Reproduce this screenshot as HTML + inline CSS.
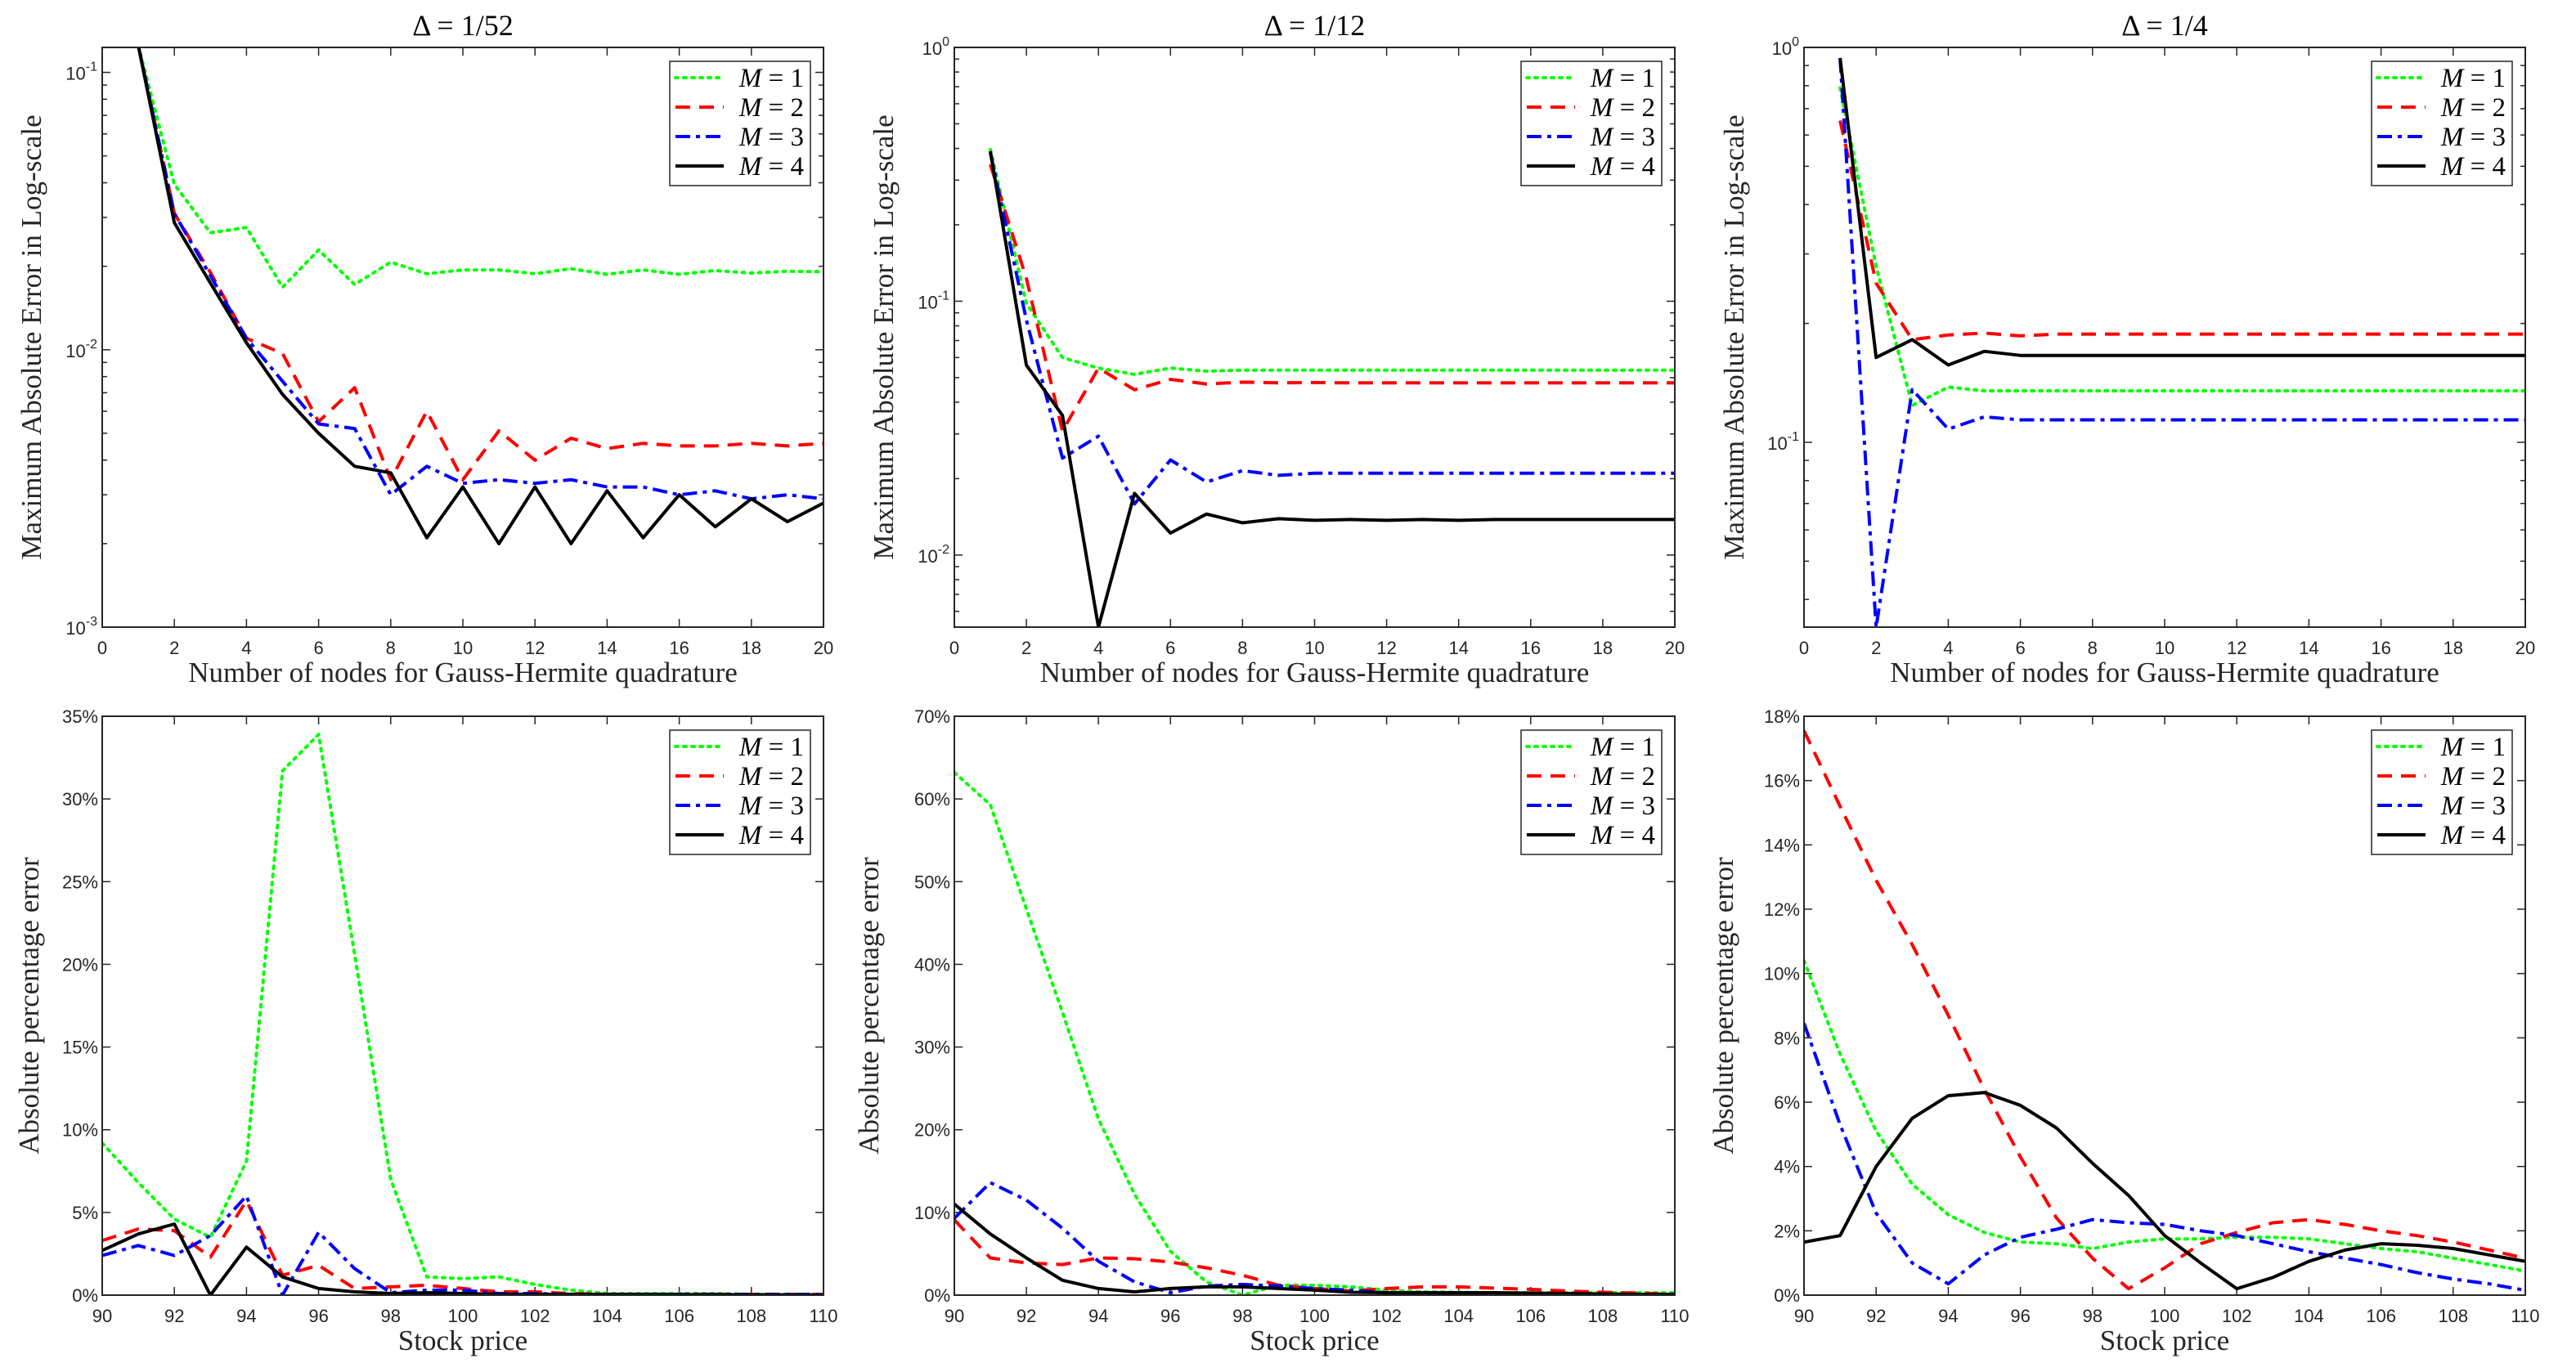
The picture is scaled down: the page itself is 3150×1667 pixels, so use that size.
<!DOCTYPE html>
<html><head><meta charset="utf-8"><style>
html,body{margin:0;padding:0;background:#fff;}
svg{display:block;}
.tk{font-family:"Liberation Sans",sans-serif;font-size:22px;fill:#262626;}
.lab{font-family:"Liberation Serif",serif;font-size:35px;fill:#262626;}
.ttl{font-family:"Liberation Serif",serif;font-size:36px;fill:#000;}
.leg{font-family:"Liberation Serif",serif;font-size:33px;fill:#000;}
</style></head><body>
<svg id="fig" width="3150" height="1667" viewBox="0 0 3150 1667" xmlns="http://www.w3.org/2000/svg"></svg>
<script>
// ---- data ----
const nodes = [1,2,3,4,5,6,7,8,9,10,11,12,13,14,15,16,17,18,19,20];
const prices = [90,91,92,93,94,95,96,97,98,99,100,101,102,103,104,105,106,107,108,109,110];
const titles = ["Δ = 1/52","Δ = 1/12","Δ = 1/4"];

const t52M1 = [0.125,0.0395,0.0264,0.0276,0.0168,0.0229,0.0172,0.0207,0.0188,0.0194,0.0194,0.0188,0.0196,0.0187,0.0194,0.0187,0.0193,0.0189,0.0192,0.0191];
const t52M2 = [0.125,0.031,0.019,0.011,0.0097,0.0055,0.0073,0.0034,0.0060,0.0034,0.0051,0.0040,0.0048,0.0044,0.0046,0.0045,0.0045,0.0046,0.0045,0.0046];
const t52M3 = [0.125,0.031,0.0185,0.011,0.0077,0.0054,0.0052,0.0030,0.0038,0.0033,0.0034,0.0033,0.0034,0.0032,0.0032,0.0030,0.0031,0.0029,0.0030,0.0029];
const t52M4 = [0.125,0.0287,0.0174,0.0106,0.0069,0.0050,0.0038,0.0036,0.0021,0.0032,0.0020,0.0032,0.0020,0.0031,0.0021,0.0030,0.0023,0.0029,0.0024,0.0028];

const t12M1 = [0.396,0.098,0.060,0.0545,0.0515,0.0545,0.053,0.0535,0.0535,0.0535,0.0535,0.0535,0.0535,0.0535,0.0535,0.0535,0.0535,0.0535,0.0535,0.0535];
const t12M2 = [0.346,0.123,0.0308,0.0545,0.0448,0.0492,0.0472,0.048,0.0477,0.0478,0.0477,0.0477,0.0477,0.0477,0.0477,0.0477,0.0477,0.0477,0.0477,0.0477];
const t12M3 = [0.385,0.0844,0.0241,0.0294,0.0159,0.0237,0.0194,0.0215,0.0206,0.021,0.021,0.021,0.021,0.021,0.021,0.021,0.021,0.021,0.021,0.021];
const t12M4 = [0.39,0.056,0.0355,0.0052,0.0175,0.0122,0.0145,0.0134,0.0139,0.0137,0.0138,0.0137,0.0138,0.0137,0.0138,0.0138,0.0138,0.0138,0.0138,0.0138];

const t4M1 = [0.79,0.279,0.124,0.138,0.135,0.135,0.135,0.135,0.135,0.135,0.135,0.135,0.135,0.135,0.135,0.135,0.135,0.135,0.135,0.135];
const t4M2 = [0.653,0.253,0.182,0.187,0.189,0.186,0.188,0.188,0.188,0.188,0.188,0.188,0.188,0.188,0.188,0.188,0.188,0.188,0.188,0.188];
const t4M3 = [0.94,0.034,0.136,0.108,0.116,0.114,0.114,0.114,0.114,0.114,0.114,0.114,0.114,0.114,0.114,0.114,0.114,0.114,0.114,0.114];
const t4M4 = [0.94,0.164,0.182,0.157,0.170,0.166,0.166,0.166,0.166,0.166,0.166,0.166,0.166,0.166,0.166,0.166,0.166,0.166,0.166,0.166];

const b52M1 = [9.2,6.8,4.6,3.5,8.1,31.7,33.9,20.6,7.0,1.1,1.0,1.1,0.65,0.3,0.1,0.1,0.1,0.1,0.05,0.05,0.0];
const b52M2 = [3.3,4.0,3.9,2.3,5.7,1.2,1.8,0.4,0.5,0.6,0.4,0.2,0.2,0.1,0.05,0.05,0.05,0.05,0.05,0.05,0.05];
const b52M3 = [2.4,3.0,2.4,3.6,6.0,0.0,3.8,1.6,0.15,0.3,0.3,0.1,0.1,0.05,0.05,0.05,0.05,0.05,0.05,0.05,0.05];
const b52M4 = [2.7,3.7,4.3,0.0,2.9,1.1,0.4,0.2,0.1,0.15,0.1,0.05,0.05,0.05,0.05,0.05,0.03,0.03,0.02,0.02,0.0];

const b12M1 = [63.2,59.3,46.7,34.2,21.3,12.2,5.3,1.6,0.0,1.2,1.2,1.0,0.6,0.4,0.35,0.3,0.3,0.3,0.3,0.3,0.3];
const b12M2 = [9.1,4.5,3.9,3.7,4.5,4.4,4.0,3.3,2.4,1.2,0.8,0.5,0.8,1.0,1.0,0.85,0.7,0.5,0.35,0.25,0.1];
const b12M3 = [9.3,13.6,11.5,8.1,4.1,1.6,0.3,1.1,1.3,1.1,0.8,0.6,0.3,0.15,0.1,0.1,0.1,0.1,0.1,0.1,0.1];
const b12M4 = [11.0,7.4,4.5,1.8,0.8,0.4,0.8,1.0,1.0,0.8,0.6,0.35,0.3,0.3,0.3,0.3,0.25,0.2,0.15,0.1,0.1];

const b4M1 = [10.4,7.5,5.1,3.45,2.5,1.95,1.65,1.6,1.45,1.65,1.75,1.75,1.8,1.8,1.75,1.6,1.45,1.35,1.15,0.95,0.75];
const b4M2 = [17.55,15.2,12.9,10.9,8.7,6.4,4.3,2.4,1.15,0.2,0.85,1.6,1.95,2.25,2.35,2.2,2.0,1.85,1.65,1.4,1.15];
const b4M3 = [8.45,5.3,2.55,1.0,0.35,1.25,1.8,2.05,2.35,2.25,2.2,2.0,1.85,1.6,1.35,1.15,0.95,0.7,0.5,0.35,0.15];
const b4M4 = [1.65,1.85,4.0,5.5,6.2,6.3,5.9,5.2,4.1,3.1,1.85,1.0,0.2,0.55,1.05,1.4,1.6,1.55,1.45,1.25,1.05];

const nodeTicks = [0,2,4,6,8,10,12,14,16,18,20];
const priceTicks = [90,92,94,96,98,100,102,104,106,108,110];
const pct52Ticks = [0,5,10,15,20,25,30,35];
const pct12Ticks = [0,10,20,30,40,50,60,70];
const pct4Ticks = [0,2,4,6,8,10,12,14,16,18];
const legendLabels = ["1","2","3","4"];

// ---- drawing ----
const NS = "http://www.w3.org/2000/svg";
const svg = document.getElementById('fig');
function mk(tag, attrs, parent){const e=document.createElementNS(NS,tag);for(const k in attrs)e.setAttribute(k,attrs[k]);(parent||svg).appendChild(e);return e;}

const styles = [
  {stroke:"#00ff00", dash:"3 7", w:4, cap:"round"},
  {stroke:"#ff0000", dash:"18 11", w:4, cap:"butt"},
  {stroke:"#0000ff", dash:"18 7 5 7", w:4, cap:"butt"},
  {stroke:"#000000", dash:"", w:4, cap:"butt"}
];
const colsX = [[125,1007],[1167,2048],[2206,3088]];
const rowsY = [[58,767],[876,1584]];
const ylabX = [[50,1092,2132],[47,1074,2119]];
let clipId = 0;

function panel(ci, ri, xdom, xticks, yscale, ydom, yticks, series, ylabel, xlabel, nameBase){
  const [x0,x1] = colsX[ci], [y0,y1] = rowsY[ri];
  const g = mk('g',{});
  
  
  const sx = v => x0 + (v - xdom[0])/(xdom[1]-xdom[0])*(x1-x0);
  const sy = yscale==='log'
    ? v => y1 - (Math.log10(v)-Math.log10(ydom[0]))/(Math.log10(ydom[1])-Math.log10(ydom[0]))*(y1-y0)
    : v => y1 - (v-ydom[0])/(ydom[1]-ydom[0])*(y1-y0);
  const TL = 10;
  xticks.forEach(t=>{
    const x=sx(t);
    mk('line',{x1:x,y1:y1,x2:x,y2:y1-TL,stroke:"#262626","stroke-width":1.5},g);
    mk('line',{x1:x,y1:y0,x2:x,y2:y0+TL,stroke:"#262626","stroke-width":1.5},g);
    const tx = mk('text',{x:x,y:y1+33,"text-anchor":"middle",class:"tk"},g);
    tx.textContent = t;
    
    
  });
  if(yscale==='log'){
    const lo=Math.floor(Math.log10(ydom[0])), hi=Math.ceil(Math.log10(ydom[1]));
    for(let e=lo;e<=hi;e++){
      for(let m=1;m<10;m++){
        const v=m*Math.pow(10,e);
        if(v<ydom[0]*0.999||v>ydom[1]*1.001) continue;
        const y=sy(v), L = m===1?TL:TL*0.6;
        mk('line',{x1:x0,y1:y,x2:x0+L,y2:y,stroke:"#262626","stroke-width":1.5},g);
        mk('line',{x1:x1,y1:y,x2:x1-L,y2:y,stroke:"#262626","stroke-width":1.5},g);
      }
    }
    yticks.forEach(e=>{
      const y=sy(Math.pow(10,e));
      const tx=mk('text',{x:x0-6,y:y+9,"text-anchor":"end",class:"tk"},g);
      
      
      const a=mk('tspan',{},tx); a.textContent="10";
      const b=mk('tspan',{dy:-11,"font-size":"16px"},tx); b.textContent=String(e);
    });
  } else {
    yticks.forEach(t=>{
      const y=sy(t);
      mk('line',{x1:x0,y1:y,x2:x0+TL,y2:y,stroke:"#262626","stroke-width":1.5},g);
      mk('line',{x1:x1,y1:y,x2:x1-TL,y2:y,stroke:"#262626","stroke-width":1.5},g);
      const tx=mk('text',{x:x0-5,y:y+8,"text-anchor":"end",class:"tk"},g);
      tx.textContent=t+"%";
      
      
    });
  }
  const id='c'+(clipId++);
  const cp=mk('clipPath',{id:id},g);
  mk('rect',{x:x0,y:y0,width:x1-x0,height:y1-y0},cp);
  series.forEach((s,si)=>{
    const st=styles[si];
    const pts=s.x.map((xv,i)=>sx(xv).toFixed(1)+","+sy(s.y[i]).toFixed(1)).join(" ");
    const pl=mk('polyline',{points:pts,fill:"none",stroke:st.stroke,"stroke-width":st.w,"stroke-dasharray":st.dash,"stroke-linecap":st.cap,"stroke-linejoin":"round","clip-path":"url(#"+id+")"},g);
    
    
  });
  const box=mk('rect',{x:x0,y:y0,width:x1-x0,height:y1-y0,fill:"none",stroke:"#262626","stroke-width":2},g);
  
  
  const xl=mk('text',{x:(x0+x1)/2,y:y1+67,"text-anchor":"middle",class:"lab"},g);
  xl.textContent=xlabel;
  
  
  const lx=ylabX[ri][ci], ly=(y0+y1)/2;
  const yl=mk('text',{x:lx,y:ly,"text-anchor":"middle",class:"lab",transform:"rotate(-90 "+lx+" "+ly+")"},g);
  yl.textContent=ylabel;
  
  
  const lr=x1-16, lw=172, lt = y0+17, lh=152;
  const lg=mk('g',{},g);
  
  
  mk('rect',{x:lr-lw,y:lt,width:lw,height:lh,fill:"#fff",stroke:"#262626","stroke-width":1.5},lg);
  legendLabels.forEach((lab,i)=>{
    const st=styles[i], yy=lt+20+i*36;
    const ln=mk('line',{x1:lr-lw+7,y1:yy,x2:lr-lw+66,y2:yy,stroke:st.stroke,"stroke-width":st.w,"stroke-dasharray":st.dash,"stroke-linecap":st.cap},lg);
    
    
    const t=mk('text',{x:lr-8,y:yy+11,"text-anchor":"end",class:"leg"},lg);
    const a=mk('tspan',{"font-style":"italic"},t); a.textContent="M";
    const b=mk('tspan',{},t); b.textContent=" = "+lab;
  });
  if(ri===0){
    const tt=mk('text',{x:(x0+x1)/2,y:43,"text-anchor":"middle",class:"ttl"},g);
    tt.textContent=titles[ci];
    
    
  }
}

const ylTop="Maximum Absolute Error in Log-scale", xlTop="Number of nodes for Gauss-Hermite quadrature";
const ylBot="Absolute percentage error", xlBot="Stock price";
const S=(x,arrs)=>arrs.map(a=>({x:x,y:a}));

panel(0,0,[0,20],nodeTicks,'log',[0.001,Math.pow(10,-0.91)],[-3,-2,-1],S(nodes,[t52M1,t52M2,t52M3,t52M4]),ylTop,xlTop,'error-chart-1-52');
panel(1,0,[0,20],nodeTicks,'log',[Math.pow(10,-2.284),1],[-2,-1,0],S(nodes,[t12M1,t12M2,t12M3,t12M4]),ylTop,xlTop,'error-chart-1-12');
panel(2,0,[0,20],nodeTicks,'log',[Math.pow(10,-1.468),1],[-1,0],S(nodes,[t4M1,t4M2,t4M3,t4M4]),ylTop,xlTop,'error-chart-1-4');
panel(0,1,[90,110],priceTicks,'lin',[0,35],pct52Ticks,S(prices,[b52M1,b52M2,b52M3,b52M4]),ylBot,xlBot,'pct-chart-1-52');
panel(1,1,[90,110],priceTicks,'lin',[0,70],pct12Ticks,S(prices,[b12M1,b12M2,b12M3,b12M4]),ylBot,xlBot,'pct-chart-1-12');
panel(2,1,[90,110],priceTicks,'lin',[0,18],pct4Ticks,S(prices,[b4M1,b4M2,b4M3,b4M4]),ylBot,xlBot,'pct-chart-1-4');
</script>
</body></html>
